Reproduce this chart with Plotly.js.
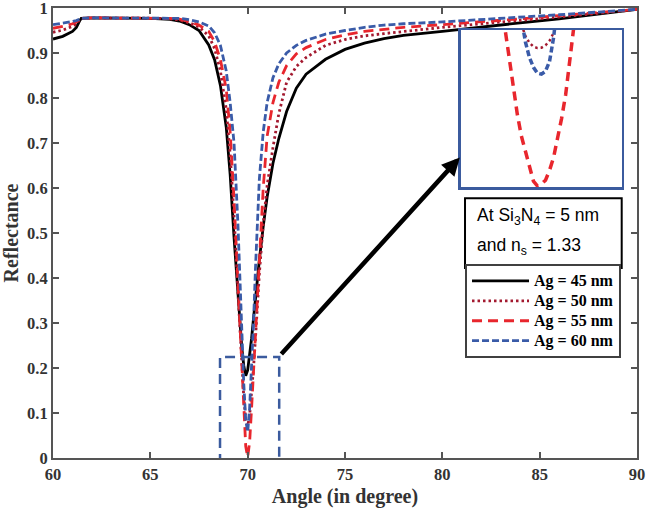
<!DOCTYPE html>
<html>
<head>
<meta charset="utf-8">
<script src="https://cdn.plot.ly/plotly-3.0.1.min.js"></script>
<style>html,body{margin:0;padding:0;background:#fff;}#chart{width:650px;height:509px;}</style>
</head>
<body>
<div id="chart"></div>
<script>
// Main curves: angle (degree) vs reflectance
var angle = [60, 60.5, 61, 61.2, 61.35, 61.45, 62, 63, 64, 65, 65.5, 66, 66.5, 67, 67.5, 68, 68.3, 68.6, 68.9, 69.1,
             69.3, 69.5, 69.6, 69.7, 69.8, 69.9, 70, 70.1, 70.2, 70.3, 70.4, 70.6, 70.8, 71, 71.3, 71.6, 72, 72.5, 73, 74,
             75, 76, 77, 78, 80, 82, 84, 86, 88, 90];
var ag45 = [0.931, 0.937, 0.948, 0.957, 0.970, 0.977, 0.978, 0.978, 0.978, 0.977, 0.976, 0.975, 0.971, 0.963, 0.950, 0.918, 0.885, 0.828, 0.735, 0.630,
            0.490, 0.355, 0.295, 0.245, 0.205, 0.183, 0.195, 0.225, 0.265, 0.310, 0.355, 0.440, 0.515, 0.580, 0.655, 0.710, 0.770, 0.822, 0.853, 0.886,
            0.908, 0.922, 0.932, 0.939, 0.948, 0.958, 0.967, 0.976, 0.986, 0.997];
var ag50 = [0.946, 0.951, 0.959, 0.965, 0.973, 0.977, 0.978, 0.978, 0.978, 0.978, 0.977, 0.976, 0.973, 0.967, 0.958, 0.938, 0.910, 0.860, 0.775, 0.675,
            0.540, 0.370, 0.285, 0.205, 0.135, 0.085, 0.071, 0.094, 0.140, 0.200, 0.265, 0.410, 0.520, 0.605, 0.690, 0.765, 0.835, 0.870, 0.890, 0.917,
            0.930, 0.938, 0.943, 0.948, 0.957, 0.965, 0.972, 0.980, 0.988, 0.997];
var ag55 = [0.955, 0.959, 0.965, 0.969, 0.974, 0.977, 0.978, 0.978, 0.978, 0.978, 0.978, 0.977, 0.975, 0.970, 0.962, 0.948, 0.925, 0.885, 0.820, 0.725,
            0.575, 0.390, 0.290, 0.190, 0.094, 0.026, 0.002, 0.035, 0.110, 0.190, 0.270, 0.450, 0.600, 0.715, 0.790, 0.835, 0.872, 0.898, 0.912, 0.930,
            0.940, 0.948, 0.953, 0.957, 0.963, 0.969, 0.976, 0.983, 0.990, 0.997];
var ag60 = [0.963, 0.966, 0.970, 0.972, 0.975, 0.977, 0.978, 0.978, 0.978, 0.978, 0.978, 0.978, 0.977, 0.974, 0.969, 0.960, 0.945, 0.917, 0.860, 0.790,
            0.700, 0.520, 0.390, 0.270, 0.165, 0.085, 0.058, 0.110, 0.200, 0.300, 0.420, 0.620, 0.725, 0.790, 0.845, 0.876, 0.900, 0.917, 0.928, 0.942,
            0.950, 0.957, 0.962, 0.965, 0.969, 0.974, 0.979, 0.985, 0.991, 0.997];

// Inset (zoom near the resonance minimum)
var insetAngle = [69.80, 69.82, 69.84, 69.86, 69.88, 69.90, 69.92, 69.94, 69.96, 69.98, 70.00, 70.02, 70.04, 70.06, 70.08, 70.10, 70.12, 70.14, 70.16, 70.18];
var inset50 = [0.135, 0.122, 0.110, 0.100, 0.091, 0.083, 0.077, 0.0735, 0.0715, 0.0708, 0.071, 0.0722, 0.0745, 0.0785, 0.085, 0.094, 0.105, 0.117, 0.130, 0.143];
var inset55 = [0.094, 0.079, 0.064, 0.049, 0.037, 0.026, 0.018, 0.0097, 0.003, 0.0005, 0.0015, 0.0035, 0.0085, 0.015, 0.0245, 0.035, 0.047, 0.063, 0.0805, 0.098];
var inset60 = [0.165, 0.147, 0.130, 0.115, 0.099, 0.086, 0.074, 0.066, 0.061, 0.058, 0.0575, 0.059, 0.064, 0.076, 0.092, 0.110, 0.128, 0.146, 0.165, 0.185];

var names = ['Ag = 45 nm', 'Ag = 50 nm', 'Ag = 55 nm', 'Ag = 60 nm'];
var xTicks = [60, 65, 70, 75, 80, 85, 90];
var xTickText = ['60', '65', '70', '75', '80', '85', '90'];
var yTicks = [0, 0.1, 0.2, 0.3, 0.4, 0.5, 0.6, 0.7, 0.8, 0.9, 1];
var yTickText = ['0', '0.1', '0.2', '0.3', '0.4', '0.5', '0.6', '0.7', '0.8', '0.9', '1'];
var boxText1 = 'At Si<sub>3</sub>N<sub>4</sub> = 5 nm';
var boxText2 = 'and n<sub>s</sub> = 1.33';

var cBlack = '#000000', cDot = '#a3192f', cRed = '#e8262d', cBlue = '#3a5ba8';
var blueFrame = '#3b5b9e';

function bold(arr) { return arr.map(function (s) { return '<b>' + s + '</b>'; }); }
function legendName(s) { return '<span style="font-size:16px"><b>' + s + '</b></span>'; }

var traces = [
  {x: angle, y: ag45, name: legendName(names[0]), mode: 'lines', line: {color: cBlack, width: 2.8}},
  {x: angle, y: ag50, name: legendName(names[1]), mode: 'lines', line: {color: cDot, width: 2.8, dash: '2.5px,3px'}},
  {x: angle, y: ag55, name: legendName(names[2]), mode: 'lines', line: {color: cRed, width: 2.8, dash: '10px,6px'}},
  {x: angle, y: ag60, name: legendName(names[3]), mode: 'lines', line: {color: cBlue, width: 2.8, dash: '7px,3px'}},
  {x: insetAngle, y: inset50, xaxis: 'x2', yaxis: 'y2', mode: 'lines', showlegend: false, line: {color: cDot, width: 2.5, dash: '2.5px,3px'}},
  {x: insetAngle, y: inset55, xaxis: 'x2', yaxis: 'y2', mode: 'lines', showlegend: false, line: {color: cRed, width: 3.5, dash: '9px,6px'}},
  {x: insetAngle, y: inset60, xaxis: 'x2', yaxis: 'y2', mode: 'lines', showlegend: false, line: {color: cBlue, width: 3.5, dash: '6px,3px'}}
];

var axisGray = '#555555';
var tickFont = {family: 'Liberation Serif', size: 16.5, color: '#333333'};
var titleFont = {family: 'Liberation Serif', size: 20, color: '#333333', weight: 'bold'};

var layout = {
  width: 650, height: 509,
  margin: {l: 53, r: 13, t: 8, b: 51, pad: 0},
  paper_bgcolor: '#ffffff', plot_bgcolor: '#ffffff',
  showlegend: true,
  xaxis: {
    range: [60, 90], tickvals: xTicks, ticktext: bold(xTickText), ticks: 'inside', ticklen: 6, tickwidth: 2, tickcolor: axisGray,
    showline: true, linecolor: axisGray, linewidth: 2, mirror: 'ticks', showgrid: false, zeroline: false,
    tickfont: tickFont, ticklabeloverflow: 'allow', title: {text: 'Angle (in degree)', font: titleFont, standoff: 6}, automargin: false
  },
  yaxis: {
    range: [0, 1], tickvals: yTicks, ticktext: bold(yTickText), ticks: 'inside', ticklen: 6, tickwidth: 2, tickcolor: axisGray,
    showline: true, linecolor: axisGray, linewidth: 2, mirror: 'ticks', showgrid: false, zeroline: false,
    tickfont: tickFont, ticklabeloverflow: 'allow', title: {text: 'Reflectance', font: titleFont, standoff: 6}, automargin: false
  },
  xaxis2: {domain: [0.6986, 0.9743], anchor: 'y2', range: [69.6, 70.4], showticklabels: false, ticks: '',
    showline: true, mirror: true, linecolor: blueFrame, linewidth: 2.5, showgrid: false, zeroline: false},
  yaxis2: {domain: [0.6022, 0.9511], anchor: 'x2', range: [0, 0.08], showticklabels: false, ticks: '',
    showline: true, mirror: true, linecolor: blueFrame, linewidth: 2.5, showgrid: false, zeroline: false},
  legend: {
    x: 0.7055, y: 0.4311, xanchor: 'left', yanchor: 'top', bgcolor: '#ffffff', bordercolor: '#404040', borderwidth: 2,
    font: {family: 'Liberation Serif', size: 13, color: '#000000'}, itemwidth: 57, tracegroupgap: 0
  },
  shapes: [
    {type: 'rect', xref: 'x', yref: 'y', x0: 68.58, x1: 71.62, y0: -0.008, y1: 0.2246,
     line: {color: blueFrame, width: 2.5, dash: '10px,6px'}, fillcolor: 'rgba(0,0,0,0)'},
    {type: 'rect', xref: 'paper', yref: 'paper', x0: 0.7055, x1: 0.9738, y0: 0.4222, y1: 0.5771,
     line: {color: '#000000', width: 2}, fillcolor: '#ffffff', layer: 'above'}
  ],
  annotations: [
    {xref: 'x', yref: 'y', axref: 'x', ayref: 'y', x: 80.9, y: 0.668, ax: 71.66, ay: 0.228, text: '',
     showarrow: true, arrowhead: 2, arrowsize: 0.8, arrowwidth: 4.5, arrowcolor: '#000000', standoff: 0, startstandoff: 0},
    {xref: 'paper', yref: 'paper', x: 0.7226, y: 0.5356, xanchor: 'left', yanchor: 'middle', showarrow: false,
     text: boxText1, font: {family: 'Liberation Sans', size: 17.5, color: '#000000'}},
    {xref: 'paper', yref: 'paper', x: 0.7226, y: 0.4711, xanchor: 'left', yanchor: 'middle', showarrow: false,
     text: boxText2, font: {family: 'Liberation Sans', size: 17.5, color: '#000000'}}
  ]
};

Plotly.newPlot('chart', traces, layout, {displayModeBar: false, staticPlot: true});
</script>
</body>
</html>
